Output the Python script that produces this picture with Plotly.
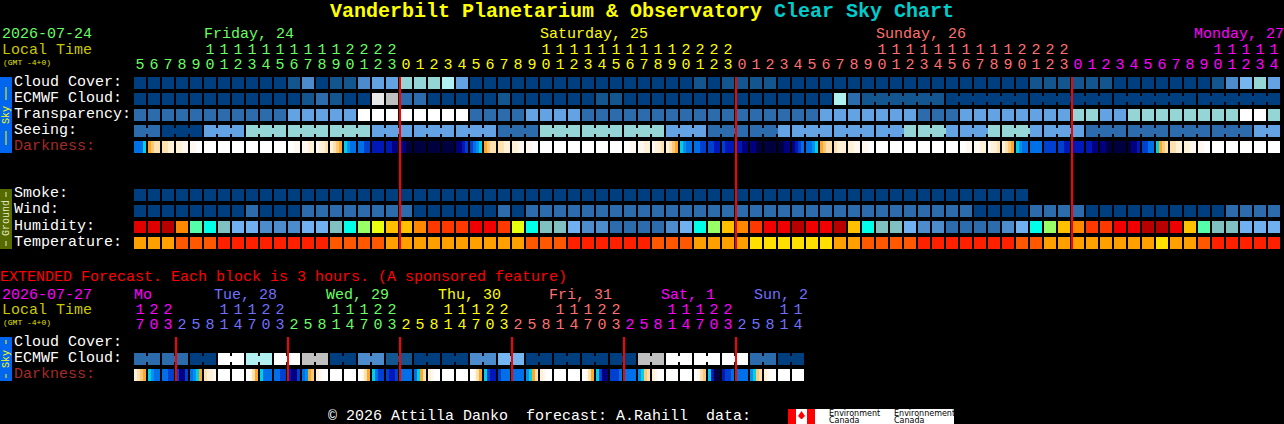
import plotly.graph_objects as go

# --- hours along the top of each chart
hours_main = [5, 6, 7, 8, 9, 10, 11, 12, 13, 14, 15, 16, 17, 18, 19, 20, 21, 22, 23,
              0, 1, 2, 3, 4, 5, 6, 7, 8, 9, 10, 11, 12, 13, 14, 15, 16, 17, 18, 19, 20, 21, 22, 23,
              0, 1, 2, 3, 4, 5, 6, 7, 8, 9, 10, 11, 12, 13, 14, 15, 16, 17, 18, 19, 20, 21, 22, 23,
              0, 1, 2, 3, 4, 5, 6, 7, 8, 9, 10, 11, 12, 13, 14]
hours_ext = [17, 20, 23,
             2, 5, 8, 11, 14, 17, 20, 23,
             2, 5, 8, 11, 14, 17, 20, 23,
             2, 5, 8, 11, 14, 17, 20, 23,
             2, 5, 8, 11, 14, 17, 20, 23,
             2, 5, 8, 11, 14, 17, 20, 23,
             2, 5, 8, 11, 14]

# one letter/digit per block, split by day (Fri, Sat, Sun, Mon)
cloud_cover = list("0000000000013011344" "666740000000000000000101" "111000000000000000000111" "111000000013564")
ecmwf_cloud = list("00000000000012100a9" "220000010000001100000000" "000000072111111000000000" "000000000000000")
transparency = list("2222222222244444888" "888882222444422222222222" "222222444444422244444444" "664466666666886")
seeing = list("2200044466666666644" "444444422266666666644422" "222444444444666444666444" "422222222222244")
smoke = list("0000000000000000000" "000000000000000000000000" "000000000000000000000")
wind = list("0000000020002222222" "200000020222222222222222" "222222222222222220000222" "200000000002222")
humidity = list("aabcdefgghhhggfemlk" "kcjjjnnjleffghhiiiihgemk" "cjnnbnnbkeffghhiiiihgemk" "cjjnnbbnkdffggg")
temperature = list("oooqqqrrrrrrrrqqqqo" "oooooooooqqqrrrrrrqqqooo" "oyyyyyyooqqqqrrrrrrrqqoo" "ooooooyooqrrrrr")

# darkness: 4 samples across each block
darkness = ["4446", "7899", "99aa", "aabb", "bbcc", "cccc", "cccc", "cccc", "cccc", "cccc", "cccc",
            "ccbb", "bbaa", "baa9", "a987", "6544", "4433", "2222", "2211",
            "1100", "0000", "0000", "0000", "1123", "3456", "7899", "99aa", "aabb", "bbcc",
            "cccc", "cccc", "cccc", "cccc", "cccc", "cccc",
            "ccbb", "bbaa", "baa9", "a987", "6544", "4433", "3322", "3222",
            "2211", "1100", "0000", "0011", "1234", "4456", "7899", "9aaa", "aabb", "bbcc",
            "cccc", "cccc", "cccc", "cccc", "cccc", "cccc",
            "ccbb", "bbaa", "baa9", "a987", "6544", "4444", "3333", "3322",
            "2222", "2211", "1100", "0000", "0112", "3344", "6789", "99aa", "aabb", "bbcc",
            "cccc", "cccc", "cccc", "cccc", "cccc"]

# extended forecast, 3 hour blocks
ext_ecmwf = list("222200887788990033110000" "335500000000998888882200")
ext_darkness = ["a987", "6544", "4433", "3113", "4567", "9aab", "cccc", "cccc",
                "cb97", "6444", "4433", "2113", "4578", "abcc", "cccc", "cccc",
                "cb97", "6433", "3223", "4444", "4679", "abcc", "cccc", "cccc",
                "cb97", "6322", "3444", "4444", "5679", "abcc", "cccc", "cccc",
                "cb97", "6311", "3334", "4444", "5689", "abcc", "cccc", "cccc",
                "cb98", "6200", "2334", "4444", "5689", "abcc", "cccc", "cccc"]

# blocks that are joined together (forecast runs with coarser steps)
seeing_groups = [2, 3, 3, 3, 3, 3, 3, 3, 3, 3, 3, 3, 3, 3, 3, 3, 3, 3, 3, 3, 3, 3, 3, 3, 3, 3, 3, 2]
ecmwf_groups = [1] * 52 + [6, 6, 6, 6, 6]
ext_ecmwf_groups = [2] * 24

midnights_main = [19, 43, 67]
midnights_ext = [3, 11, 19, 27, 35, 43]

day_main = [("Friday, 24", 204), ("Saturday, 25", 540), ("Sunday, 26", 876), ("Monday, 27", 1194)]
day_ext = [("Mo", 134), ("Tue, 28", 214), ("Wed, 29", 326), ("Thu, 30", 438),
           ("Fri, 31", 549), ("Sat, 1", 661), ("Sun, 2", 754)]

GREEN, YELLOW, SALMON, MAGENTA, PERI = "#66ff66", "#ffff00", "#ff7070", "#ff00ff", "#7070ff"
main_colors = [GREEN, YELLOW, SALMON, MAGENTA]
ext_colors = [MAGENTA, PERI, GREEN, YELLOW, SALMON, MAGENTA, PERI]

# palettes
palette = {
    "0": "#003f7f", "1": "#13558f", "2": "#2c6cac", "3": "#4c8ccc", "4": "#63a3e3", "5": "#76b6f0",
    "6": "#95d5d5", "7": "#b0f0f0", "8": "#ffffff", "9": "#c0c0c0", "a": "#e8e8e8",
}
hot_palette = {
    "a": "#e00000", "b": "#b80000", "c": "#ff8800", "d": "#55ffaa", "e": "#00ffe8", "f": "#80c0c0",
    "g": "#70b0f0", "h": "#4c8ccc", "i": "#2c6cac", "j": "#ff3800", "k": "#ffc000", "l": "#e8ff10",
    "m": "#99ff66", "n": "#f00000", "o": "#ffa000", "q": "#ff5800", "r": "#ff2000", "y": "#ffe000",
}
dark_palette = {
    "0": "#000040", "1": "#000080", "2": "#0018b8", "3": "#0040d0", "4": "#0070e8", "5": "#0090f0",
    "6": "#00d0e0", "7": "#ffa828", "8": "#ffc878", "9": "#ffe0b0", "a": "#fff0d8", "b": "#fff8f0",
    "c": "#ffffff",
}

W, H = 1284, 424
FONT = "Liberation Mono"

fig = go.Figure()


def colorscale(pal):
    cols = list(pal.values())
    n = len(cols)
    out = []
    for i, c in enumerate(cols):
        out += [[i / n, c], [(i + 1) / n, c]]
    return out


def add_row(values, row, pal=palette):
    keys = list(pal.keys())
    fig.add_trace(go.Heatmap(
        x=list(range(len(values))), y=[row], z=[[keys.index(v) for v in values]],
        xgap=2, ygap=4, zmin=-0.5, zmax=len(keys) - 0.5, colorscale=colorscale(pal),
        showscale=False, hoverinfo="skip"))


def add_joins(values, groups, row, pal=palette):
    # narrow bridge across the gap between blocks of one group
    keys = list(pal.keys())
    z = [None] * len(values)
    i = 0
    for g in groups:
        for k in range(i, i + g - 1):
            z[k] = keys.index(values[k])
        i += g
    fig.add_trace(go.Heatmap(
        x=[k + 0.5 for k in range(len(values))], y=[row], z=[z],
        xgap=12, ygap=10, zmin=-0.5, zmax=len(keys) - 0.5, colorscale=colorscale(pal),
        showscale=False, hoverinfo="skip"))


def add_dark(cells, row):
    keys = list(dark_palette.keys())
    edges, z = [], []
    for i, cell in enumerate(cells):
        left = i - 6 / 14
        for j, s in enumerate(cell):
            edges.append(left + j * 3 / 14)
            z.append(keys.index(s))
        edges.append(left + 12 / 14)
        z.append(None)
    edges.append(len(cells) - 6 / 14)
    fig.add_trace(go.Heatmap(
        x=edges, y=[row], z=[z], ygap=4, zmin=-0.5, zmax=len(keys) - 0.5,
        colorscale=colorscale(dark_palette), showscale=False, hoverinfo="skip"))


def day_colors(hours, colors):
    out, d = [], 0
    for i, h in enumerate(hours):
        if i and h < hours[i - 1]:
            d += 1
        out.append(colors[d])
    return out


def add_hours(hours, colors, y_tens, y_ones):
    cols = day_colors(hours, colors)
    xs = list(range(len(hours)))
    fig.add_trace(go.Scatter(x=xs, y=[y_tens] * len(xs), mode="text",
                             text=[str(h // 10) if h >= 10 else "" for h in hours],
                             textfont=dict(family=FONT, size=15, color=cols),
                             textposition="middle center", hoverinfo="skip"))
    fig.add_trace(go.Scatter(x=xs, y=[y_ones] * len(xs), mode="text",
                             text=[str(h % 10) for h in hours],
                             textfont=dict(family=FONT, size=15, color=cols),
                             textposition="middle center", hoverinfo="skip"))


def add_midnights(mids, y0, y1):
    xs, ys = [], []
    for m in mids:
        xs += [m - 3 / 7, m - 3 / 7, None]
        ys += [y0, y1, None]
    fig.add_trace(go.Scatter(x=xs, y=ys, mode="lines", line=dict(color="#ff0000", width=2),
                             hoverinfo="skip"))


def label(text, px, py, color="#ffffff", size=15, bold=False, angle=0, anchor="left", family=FONT):
    fig.add_annotation(text=f"<b>{text}</b>" if bold else text, x=px / W, y=1 - py / H,
                       xref="paper", yref="paper", xanchor=anchor, yanchor="middle",
                       showarrow=False, textangle=angle, borderpad=0, borderwidth=0,
                       font=dict(family=family, size=size, color=color))


def box(x0, y0, x1, y1, color):
    fig.add_shape(type="rect", xref="paper", yref="paper", x0=x0 / W, x1=x1 / W,
                  y0=1 - y0 / H, y1=1 - y1 / H, fillcolor=color, line_width=0, layer="below")


def dash(y0, y1, color="#ffff00"):
    fig.add_shape(type="line", xref="paper", yref="paper", x0=6 / W, x1=6 / W,
                  y0=1 - y0 / H, y1=1 - y1 / H, line=dict(color=color, width=1))


# sky rows
add_joins(seeing, seeing_groups, 3)
add_joins(ecmwf_cloud, ecmwf_groups, 1)
add_row(cloud_cover, 0)
add_row(ecmwf_cloud, 1)
add_row(transparency, 2)
add_row(seeing, 3)
add_dark(darkness, 4)

# ground rows
add_row(smoke, 7)
add_row(wind, 8)
add_row(humidity, 9, hot_palette)
add_row(temperature, 10, hot_palette)

# extended
add_joins(ext_ecmwf, ext_ecmwf_groups, 17.25)
add_row(ext_ecmwf, 17.25)
add_dark(ext_darkness, 18.25)

add_midnights(midnights_main, -0.375, 10.375)
add_midnights(midnights_ext, 15.875, 18.625)
add_hours(hours_main, main_colors, -2.06, -1.125)
add_hours(hours_ext, ext_colors, 14.19, 15.125)

# title
label("Vanderbilt Planetarium & Observatory", 330, 12, "#ffff00", 20, bold=True)
label("Clear Sky Chart", 774, 12, "#00cccc", 20, bold=True)

# left header, main
label("2026-07-24", 2, 35, GREEN)
label("Local Time", 2, 50, "#c8c800")
label("(GMT -4+0)", 3, 62, "#e0e000", 8)
for (txt, px), c in zip(day_main, main_colors):
    label(txt, px, 35, c)

for txt, py, c in [("Cloud Cover:", 82, "#ffffff"), ("ECMWF Cloud:", 98, "#ffffff"),
                   ("Transparency:", 114, "#ffffff"), ("Seeing:", 130, "#ffffff"),
                   ("Darkness:", 146, "#a52a2a"), ("Smoke:", 194, "#ffffff"), ("Wind:", 210, "#ffffff"),
                   ("Humidity:", 226, "#ffffff"), ("Temperature:", 242, "#ffffff"),
                   ("Cloud Cover:", 342, "#ffffff"), ("ECMWF Cloud:", 358, "#ffffff"),
                   ("Darkness:", 374, "#a52a2a")]:
    label(txt, 14, py, c)

# extended header
label("EXTENDED Forecast. Each block is 3 hours. (A sponsored feature)", 0, 277, "#ff0000")
label("2026-07-27", 2, 295, MAGENTA)
label("Local Time", 2, 310, "#c8c800")
label("(GMT -4+0)", 3, 322, "#e0e000", 8)
for (txt, px), c in zip(day_ext, ext_colors):
    label(txt, px, 295, c)

# side bars
box(0, 77, 12, 153, "#0066ee")
box(0, 189, 12, 249, "#556b00")
box(0, 337, 12, 381, "#0066ee")
dash(87, 100)
label("Sky", 6, 115, "#ffff00", 10, angle=-90, anchor="center")
dash(131, 145)
dash(192, 197, "#e8e8c0")
label("Ground", 6, 218, "#e8e8c0", 10, angle=-90, anchor="center")
dash(241, 246, "#e8e8c0")
dash(340, 344)
label("Sky", 6, 359, "#ffff00", 10, angle=-90, anchor="center")
dash(374, 378)

# footer
label("\u00a9 2026 Attilla Danko  forecast: A.Rahill  data:", 328, 416, "#ffffff", 15)
box(788, 409, 954, 424, "#ffffff")
box(788, 409, 796, 424, "#ff0000")
box(807, 409, 815, 424, "#ff0000")
fig.add_shape(type="path", xref="paper", yref="paper", fillcolor="#ff0000", line_width=0,
              path="M {} {} L {} {} L {} {} L {} {} L {} {} L {} {} Z".format(
                  801.5 / W, 1 - 411 / H, 805 / W, 1 - 416 / H, 802 / W, 1 - 419 / H,
                  801 / W, 1 - 419 / H, 798 / W, 1 - 416 / H, 801.5 / W, 1 - 411 / H))
label("Environment", 829, 413, "#000000", 8, family="DejaVu Sans")
label("Canada", 829, 420, "#000000", 8, family="DejaVu Sans")
label("Environnement", 894, 413, "#000000", 8, family="DejaVu Sans")
label("Canada", 894, 420, "#000000", 8, family="DejaVu Sans")

fig.update_xaxes(visible=False, range=[-10, (W - 140) / 14], fixedrange=True)
fig.update_yaxes(visible=False, range=[(H - 83) / 16, -83 / 16], fixedrange=True)
fig.update_layout(width=W, height=H, margin=dict(l=0, r=0, t=0, b=0), showlegend=False,
                  paper_bgcolor="#000000", plot_bgcolor="#000000")

fig.write_html("out.html", config={"displayModeBar": False},
               post_script="document.body.style.margin='0';document.body.style.overflow='hidden';document.body.style.background='#000';")
